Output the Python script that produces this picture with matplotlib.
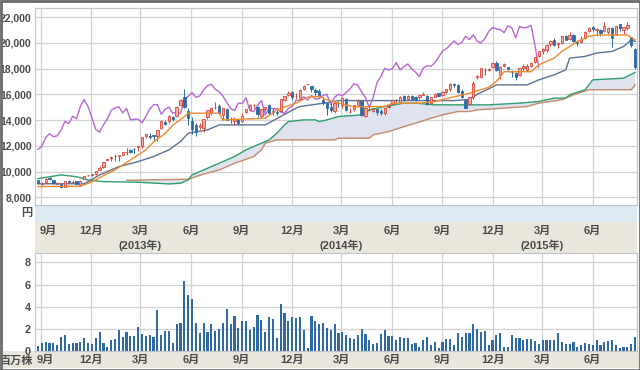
import numpy as np
import pandas as pd
import matplotlib
matplotlib.use("Agg")
import matplotlib.pyplot as plt
import matplotlib.dates as mdates
import matplotlib.transforms as mtransforms
from matplotlib.patches import Rectangle

plt.rcParams['font.family'] = ['Liberation Sans', 'Noto Sans CJK JP']

# ---------------- data ----------------
week_start = "2012-08-27"
n_weeks = 156

opens = [9340, 9055, 9165, 9525, 9340, 9065, 9055, 8835, 9300, 9165, 9250, 8960, 9425, 9705, 9755, 9825, 10155, 10350,
         10920, 11070, 11205, 11175, 11310, 11485, 11640, 11740, 11895, 12000, 12770, 12720, 12825, 12770, 13390, 13855,
         13905, 14215, 14315, 15190, 15760, 14730, 13905, 13595, 13440, 13390, 14215, 14625, 14985, 15090, 14370, 14830,
         14110, 13905, 14010, 13905, 14625, 14780, 15140, 15040, 14315, 14885, 15140, 14730, 14625, 14680, 15555, 15915,
         16170, 15860, 15655, 16375, 16780,
         16635, 16325, 16225, 15555, 15295, 15040, 14730, 15345, 15140, 15655, 14625, 14830, 15140, 15450, 14315, 14830,
         14730, 14830, 14730, 14525, 15040, 15245, 15555, 15400, 15860, 15605, 15860, 15760, 15760, 15965, 15860, 15345,
         15810, 16070, 15965, 16170, 16430, 16790, 16685, 16275, 15555, 15245, 15760, 17305, 17305, 17920, 17920, 18130,
         18435, 17510, 18230, 18130,
         17820, 17615, 17510, 18025, 17920, 18230, 18540, 18950, 19365, 19465, 19880, 20190, 19880, 19980, 20495, 20290,
         20600, 20085, 20085, 20395, 20910, 21220, 21010, 21010, 20910, 20805, 21115, 20705, 21425, 21010, 21115, 20420,
         19550]
highs = [9360, 9165, 9505, 9570, 9375, 9165, 9065, 9300, 9320, 9330, 9300, 9330, 9680, 9755, 9835, 10030, 10465, 10745,
         11010, 11205, 11330, 11225, 11535, 11845, 11740, 11845, 12010, 12670, 12935, 13030, 12875, 13235, 13965, 14010,
         14400, 14315, 15090, 15615, 16420, 14935, 14215, 13800, 13800, 14110, 14780, 14985, 15400, 15245, 14935, 14935,
         14265, 14215, 14110, 14525, 14885, 15265, 15245, 15090, 14885, 15040, 15245, 14935, 14780, 15655, 15860, 16220,
         16275, 16120, 16375, 16740, 16810,
         16635, 16480, 16375, 15760, 15345, 15345, 15345, 15450, 15760, 15710, 14935, 15140, 15605, 15555, 14985, 15090,
         14935, 14885, 14885, 14935, 15140, 15555, 15655, 15860, 15915, 15915, 15915, 15860, 15965, 16170, 15915, 15810,
         16070, 16120, 16225, 16430, 16840, 16890, 16790, 16375, 15655, 15760, 17000, 17510, 18025, 18025, 18075, 18490,
         18570, 18180, 18435, 18130,
         17920, 17715, 18075, 18335, 18335, 18490, 18900, 19365, 19570, 19880, 20190, 20375, 20035, 20550, 20600, 20860,
         20705, 20240, 20500, 20910, 21220, 21270, 21115, 21065, 21580, 21220, 21220, 21320, 21475, 21220, 21580, 20480,
         19600]
lows = [9065, 8940, 9115, 9320, 9055, 9000, 8745, 8815, 9145, 9075, 9000, 8880, 9405, 9630, 9680, 9755, 10125, 10300,
        10920, 10815, 10795, 10795, 11280, 11280, 11435, 11455, 11590, 11845, 12565, 12515, 12360, 12360, 13285, 13595,
        13800, 13955, 14265, 15090, 14915, 13595, 12925, 12795, 13285, 13080, 14110, 14420, 14830, 14470, 14010, 14010,
        13800, 13595, 13595, 13855, 14575, 14680, 14935, 14265, 14165, 14730, 14470, 14420, 14370, 14625, 15450, 15860,
        15555, 15605, 15555, 16325, 16740,
        16170, 15860, 15810, 15140, 14410, 14625, 14575, 15040, 14935, 14680, 14525, 14730, 15090, 14315, 14265, 14730,
        14625, 14370, 14380, 14420, 14935, 15245, 15345, 15345, 15500, 15555, 15555, 15500, 15655, 15915, 15190, 15295,
        15760, 15860, 15860, 16070, 16275, 16585, 16120, 15710, 14965, 15140, 15655, 17200, 17250, 17460, 17820, 18075,
        17820, 17170, 18130, 17920,
        17305, 17100, 17405, 17820, 17820, 18130, 18435, 18900, 19160, 19260, 19775, 19775, 19570, 19880, 20190, 20190,
        20085, 19775, 19980, 20290, 20860, 20910, 20500, 20550, 20860, 20705, 19675, 20600, 20910, 20705, 21010, 19700,
        17950]
closes = [9105, 9135, 9435, 9385, 9135, 9130, 8790, 9270, 9200, 9215, 9020, 9295, 9645, 9730, 9815, 10030, 10240, 10705,
          11010, 11125, 11240, 11255, 11525, 11490, 11510, 11725, 11955, 12650, 12935, 12710, 12770, 13220, 13890, 13715,
          14300, 14105, 15045, 15590, 15050, 14190, 13265, 13065, 13625, 14085, 14740, 14940, 15025, 14555, 14900, 14025,
          14060, 14070, 13790, 14275, 14835, 15185, 15205, 14445, 14835, 15000, 14510, 14625, 14510, 15620, 15840, 16130,
          15760, 15865, 16345, 16665, 16780,
          16390, 16205, 15855, 15360, 14895, 14740, 15310, 15285, 15730, 14755, 14650, 15135, 15515, 14380, 14950, 14860,
          14890, 14625, 14520, 14895, 15070, 15530, 15550, 15810, 15550, 15900, 15620, 15670, 15920, 15990, 15220, 15780,
          16005, 15885, 16140, 16425, 16810, 16715, 16180, 15760, 14970, 15750, 16905, 17385, 18015, 17880, 17985, 18460,
          17890, 18150, 18355, 17975,
          17715, 17370, 18035, 18205, 18175, 18450, 18880, 19360, 19540, 19830, 20145, 19865, 20020, 20505, 20245, 20620,
          20115, 19960, 20325, 20870, 21180, 21075, 21020, 20780, 21325, 21155, 20375, 21270, 21160, 21200, 21345, 19800,
          18100]

volume = [0.42, 0.73, 0.82, 0.76, 0.73, 0.52, 1.3, 1.48, 0.67, 0.73, 0.73, 0.85, 1.21, 0.76, 0.61, 1.15, 1.73, 0.73,
          0.36, 1.03, 1.09, 1.94, 1.3, 1.73, 1.39, 1.36, 2.21, 1.58, 1.33, 1.48, 1.27, 3.67, 1.48, 1.79, 1.82, 0.73,
          2.45, 2.52, 6.3, 5.09, 4.67, 2.52, 1.67, 2.52, 1.73, 2.42, 1.82, 2.0, 2.52, 3.79, 2.45, 3.15, 2.06, 2.67,
          2.67, 1.88, 2.15, 3.21, 2.76, 1.7, 3.09, 2.88, 1.21, 4.21, 3.39, 2.73, 3.09, 2.97, 3.09, 1.94, 0.3, 3.15,
          2.7, 2.42, 2.55, 2.1, 1.9, 2.45, 1.6, 1.7, 1.45, 1.2, 1.1, 1.45, 2.0, 1.5, 0.95, 0.6, 0.75, 1.5, 1.9, 1.35,
          1.35, 0.95, 1.3, 1.2, 1.2, 0.6, 0.75, 0.35, 1.0, 1.25, 0.5, 0.8, 0.3, 0.85, 1.1, 1.1, 0.5, 1.65, 1.25, 1.65,
          1.6, 2.4, 2.0, 1.7, 1.8, 0.5, 0.95, 1.45, 1.65, 0.4, 0.4, 1.4, 1.2, 1.2, 1.0, 1.1, 1.1, 0.9, 0.65, 1.0, 1.0,
          0.95, 1.0, 1.65, 0.8, 0.65, 0.65, 0.85, 0.4, 0.55, 0.7, 0.6, 0.5, 1.0, 0.5, 0.85, 0.9, 0.95, 0.55, 0.3, 0.4,
          0.35, 0.65, 1.25]

chikou_shift = 25

# Ichimoku lines read at key weeks (week number, price)
tenkan_wk = [0, 11, 14, 17, 20, 24, 28, 30, 33, 35, 38, 39, 47, 48, 59, 62, 67, 70, 73, 75, 78, 82, 90, 92, 99, 103,
             108, 110, 112, 117, 119, 121, 128, 130, 134, 136, 138, 140, 143, 145, 153, 155]
tenkan_val = [8830, 8850, 9200, 9680, 10120, 10900, 11680, 12300, 12950, 13600, 14270, 14530, 14530, 14010, 14140,
              14790, 15310, 15780, 15830, 15570, 15310, 15020, 15050, 15310, 15310, 15440, 15800, 15930, 16080, 16540,
              17000, 17750, 17750, 18290, 18810, 19330, 19710, 20100, 20490, 20600, 20600, 20230]
kijun_wk = [0, 12, 13, 16, 21, 26, 30, 34, 37, 39, 44, 47, 59, 63, 67, 68, 74, 78, 108, 112, 114, 117, 119, 127, 130,
            134, 137, 138, 142, 145, 149, 152, 154, 155]
kijun_val = [9050, 9050, 9210, 9735, 10380, 10770, 11160, 11680, 12325, 12975, 13230, 13620, 13620, 14270, 14920, 15050,
             15300, 15510, 15510, 15600, 16000, 16420, 16730, 16730, 17120, 17510, 17900, 18810, 18940, 19200, 19330,
             19710, 20230, 20100]
spanA_wk = [0, 6, 10, 13, 17, 26, 34, 37, 39, 40, 45, 51, 54, 57, 60, 62, 64, 65, 69, 72, 73, 75, 78, 84, 86, 90, 95,
            98, 103, 117, 125, 130, 134, 137, 138, 142, 144, 152, 155]
spanA_val = [9450, 9735, 9600, 9345, 9215, 9170, 9035, 9090, 9345, 9735, 10380, 11160, 11680, 12070, 12455, 12975,
             13620, 13880, 14010, 14010, 13880, 14010, 14270, 14400, 14790, 15050, 15310, 15310, 15180, 15180, 15310,
             15440, 15700, 15700, 15960, 16350, 17120, 17250, 17700]
spanB_wk = [23, 39, 43, 47, 51, 56, 58, 59, 62, 77, 78, 86, 87, 91, 95, 98, 102, 105, 109, 112, 114, 117, 127, 130, 136,
            139, 143, 154, 155]
spanB_val = [9320, 9400, 9800, 10120, 10640, 11160, 11680, 12200, 12455, 12455, 12590, 12590, 12845, 13100, 13490, 13750,
             14140, 14400, 14660, 14660, 14790, 14845, 15050, 15310, 15570, 15960, 16350, 16350, 16730]

price_ticks = [8000, 10000, 12000, 14000, 16000, 18000, 20000, 22000]
volume_ticks = [0, 2, 4, 6, 8]
month_ticks = ["2012-09-01", "2012-12-01", "2013-03-01", "2013-06-01", "2013-09-01", "2013-12-01", "2014-03-01",
               "2014-06-01", "2014-09-01", "2014-12-01", "2015-03-01", "2015-06-01"]
month_labels = ["9月", "12月", "3月", "6月", "9月", "12月", "3月", "6月", "9月", "12月", "3月", "6月"]
year_ticks = ["2013-03-01", "2014-03-01", "2015-03-01"]
year_labels = ["(2013年)", "(2014年)", "(2015年)"]

# ---------------- styling ----------------
UP_EDGE = "#d9453c"
UP_FACE = "#f2aaa2"
DOWN = "#2f6aa5"
C_TENKAN = "#f08a2c"
C_KIJUN = "#5b7393"
C_SPANA = "#2f9e6e"
C_SPANB = "#c48a6c"
C_CHIKOU = "#b865d8"
C_CLOUD = "#dfe2ef"
GRID = "#d2d2d2"
TXT = "#4a4a4a"

W, H = 640, 370
fig = plt.figure(figsize=(W / 100, H / 100), dpi=100)
fig.patch.set_facecolor("white")


def frect(x0, y0, x1, y1):
    return [x0 / W, 1 - y1 / H, (x1 - x0) / W, (y1 - y0) / H]


# background bands (drawn beneath the axes)
for (bx0, by0, bx1, by1, col) in [(35, 205, 637, 222, "#dde9f3"),
                                  (35, 222, 637, 253, "#e9e6dc"),
                                  (0, 351, 640, 368, "#e9e6dc")]:
    fig.patches.append(Rectangle((bx0 / W, 1 - by1 / H), (bx1 - bx0) / W, (by1 - by0) / H,
                                 transform=fig.transFigure, facecolor=col, edgecolor="none", zorder=-5))

ax = fig.add_axes(frect(35, 8, 637, 205))
axv = fig.add_axes(frect(35, 253, 637, 351))

dates = pd.date_range(week_start, periods=n_weeks, freq="7D")
xd = mdates.date2num(dates.to_pydatetime())
o = np.array(opens, float)
h = np.array(highs, float)
l = np.array(lows, float)
c = np.array(closes, float)
up = c >= o

xlim = (mdates.date2num(pd.Timestamp("2012-08-21 15:00")), mdates.date2num(pd.Timestamp("2015-08-20 10:00")))
mt = mdates.date2num(pd.to_datetime(month_ticks).to_pydatetime())
yt = mdates.date2num(pd.to_datetime(year_ticks).to_pydatetime())

for a in (ax, axv):
    a.set_xlim(*xlim)
    a.set_facecolor("white")
    for s in a.spines.values():
        s.set_color("#c4c4c4")
        s.set_linewidth(0.8)
    a.set_xticks(mt)
    a.set_xticklabels([])
    a.tick_params(length=0)
    a.grid(True, color=GRID, linewidth=0.9)
    a.set_axisbelow(True)

# cloud
ia = np.array(spanA_wk)
sel = ia >= 26
cx = np.concatenate([xd[ia[sel]], xd[np.array(spanB_wk)][::-1]])
cy = np.concatenate([np.array(spanA_val)[sel], np.array(spanB_val)[::-1]])
ax.fill(cx, cy, color=C_CLOUD, zorder=1, linewidth=0)

lw = 1.0
ax.plot(xd[np.array(spanB_wk)], spanB_val, color=C_SPANB, lw=lw, zorder=2)
ax.plot(xd[np.array(spanA_wk)], spanA_val, color=C_SPANA, lw=lw, zorder=2)
ax.plot(xd[np.array(kijun_wk)], kijun_val, color=C_KIJUN, lw=lw, zorder=3)
ax.plot(xd[:-chikou_shift], c[chikou_shift:], color=C_CHIKOU, lw=lw, zorder=3)

# candles
ax.vlines(xd[up], l[up], h[up], color=UP_EDGE, lw=0.7, zorder=4)
ax.vlines(xd[~up], l[~up], h[~up], color=DOWN, lw=0.7, zorder=4)
body = np.maximum(np.abs(c - o), 25)
ax.bar(xd[up], body[up], bottom=np.minimum(o, c)[up], width=4.2, color=UP_FACE, edgecolor=UP_EDGE,
       linewidth=0.6, zorder=5)
ax.bar(xd[~up], body[~up], bottom=np.minimum(o, c)[~up], width=4.2, color=DOWN, edgecolor=DOWN,
       linewidth=0.6, zorder=5)

ax.plot(xd[np.array(tenkan_wk)], tenkan_val, color=C_TENKAN, lw=lw, zorder=6)

ax.set_ylim(7400, 22700)
ax.set_yticks(price_ticks)
ax.set_yticklabels([f"{v:,}" for v in price_ticks], fontsize=7.5, fontweight="bold", color=TXT)
ax.tick_params(axis="y", pad=2.5)

# volume
axv.bar(xd, volume, width=3.9, color=DOWN, zorder=3)
axv.set_ylim(0, 8.85)
axv.set_yticks(volume_ticks)
axv.set_yticklabels([str(v) for v in volume_ticks], fontsize=7.8, fontweight="bold", color=TXT)
axv.tick_params(axis="y", pad=3)

# text labels (figure-level so nothing covers them)
trans = mtransforms.blended_transform_factory(ax.transData, fig.transFigure)
for i, (x, lab) in enumerate(zip(mt, month_labels)):
    dx = 8 if i == 0 else 0
    fig.text(x + dx / 0.5504, 1 - 231 / H, lab, transform=trans, ha="center", va="center", fontsize=8,
             fontweight="bold", color=TXT)
    fig.text(x + (5 / 0.5504 if i == 0 else 0), 1 - 360 / H, lab, transform=trans, ha="center", va="center",
             fontsize=8, fontweight="bold", color=TXT)
for x, lab in zip(yt, year_labels):
    fig.text(x, 1 - 245 / H, lab, transform=trans, ha="center", va="center", fontsize=8,
             fontweight="bold", color=TXT)

fig.text(27 / W, 1 - 213 / H, "円", ha="center", va="center", fontsize=8, fontweight="bold", color=TXT)
fig.text(16 / W, 1 - 361 / H, "百万株", ha="center", va="center", fontsize=8, fontweight="bold", color=TXT)

# outer frame
fig.patches.append(Rectangle((0.5 / W, 0.5 / H), (W - 1) / W, (H - 1) / H, transform=fig.transFigure,
                             facecolor="none", edgecolor="#6a6a6a", linewidth=2.0, zorder=10))

fig.savefig("out.png", dpi=100)
